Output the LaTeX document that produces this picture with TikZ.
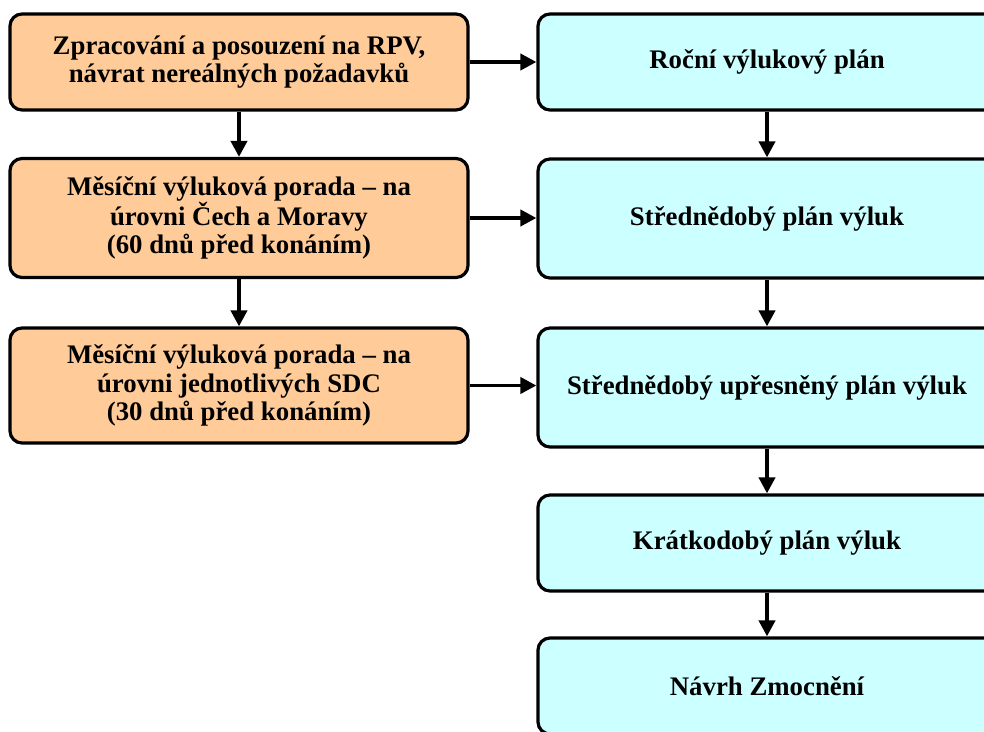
\documentclass[tikz,border=0pt]{standalone}
\usepackage{fontspec}
\setmainfont{Liberation Serif}
\usetikzlibrary{arrows.meta}
\definecolor{boxorange}{HTML}{FFCC99}
\definecolor{boxcyan}{HTML}{CCFFFF}
\tikzset{
  flowbox/.style={draw=black, line width=3.2pt, rounded corners=12pt, minimum width=458pt, inner sep=0pt, align=center, font=\fontsize{26.8}{28.5}\selectfont\bfseries},
  leftbox/.style={flowbox, fill=boxorange},
  rightbox/.style={flowbox, fill=boxcyan},
  flowarrow/.style={line width=3.8pt, -{Triangle[length=16pt,width=16pt]}}
}
\begin{document}
\begin{tikzpicture}[x=1pt,y=-1pt]
\useasboundingbox (0,0) rectangle (984,731);
\clip (0,0) rectangle (984,731);
\node[leftbox, minimum height=96pt] (l1) at (239,62) {Zpracování a posouzení na RPV,\\návrat nereálných požadavků};
\node[leftbox, minimum height=119pt] (l2) at (239,218) {Měsíční výluková porada – na\\úrovni Čech a Moravy\\(60 dnů před konáním)};
\node[leftbox, minimum height=115pt] (l3) at (239,385.5) {Měsíční výluková porada – na\\úrovni jednotlivých SDC\\(30 dnů před konáním)};
\node[rightbox, minimum height=96pt] (r1) at (767,62) {Roční výlukový plán};
\node[rightbox, minimum height=119pt] (r2) at (767,218.5) {Střednědobý plán výluk};
\node[rightbox, minimum height=119pt] (r3) at (767,387.5) {Střednědobý upřesněný plán výluk};
\node[rightbox, minimum height=96pt] (r4) at (767,543) {Krátkodobý plán výluk};
\node[rightbox, minimum height=96pt] (r5) at (767,686) {Návrh Zmocnění};
\draw[flowarrow] (l1.east) -- (l1.east -| r1.west);
\draw[flowarrow] (l2.east) -- (l2.east -| r2.west);
\draw[flowarrow] (l3.east) -- (l3.east -| r3.west);
\draw[flowarrow] (l1.south) -- (l2.north);
\draw[flowarrow] (l2.south) -- (l3.north);
\draw[flowarrow] (r1.south) -- (r2.north);
\draw[flowarrow] (r2.south) -- (r3.north);
\draw[flowarrow] (r3.south) -- (r4.north);
\draw[flowarrow] (r4.south) -- (r5.north);
\end{tikzpicture}
\end{document}
